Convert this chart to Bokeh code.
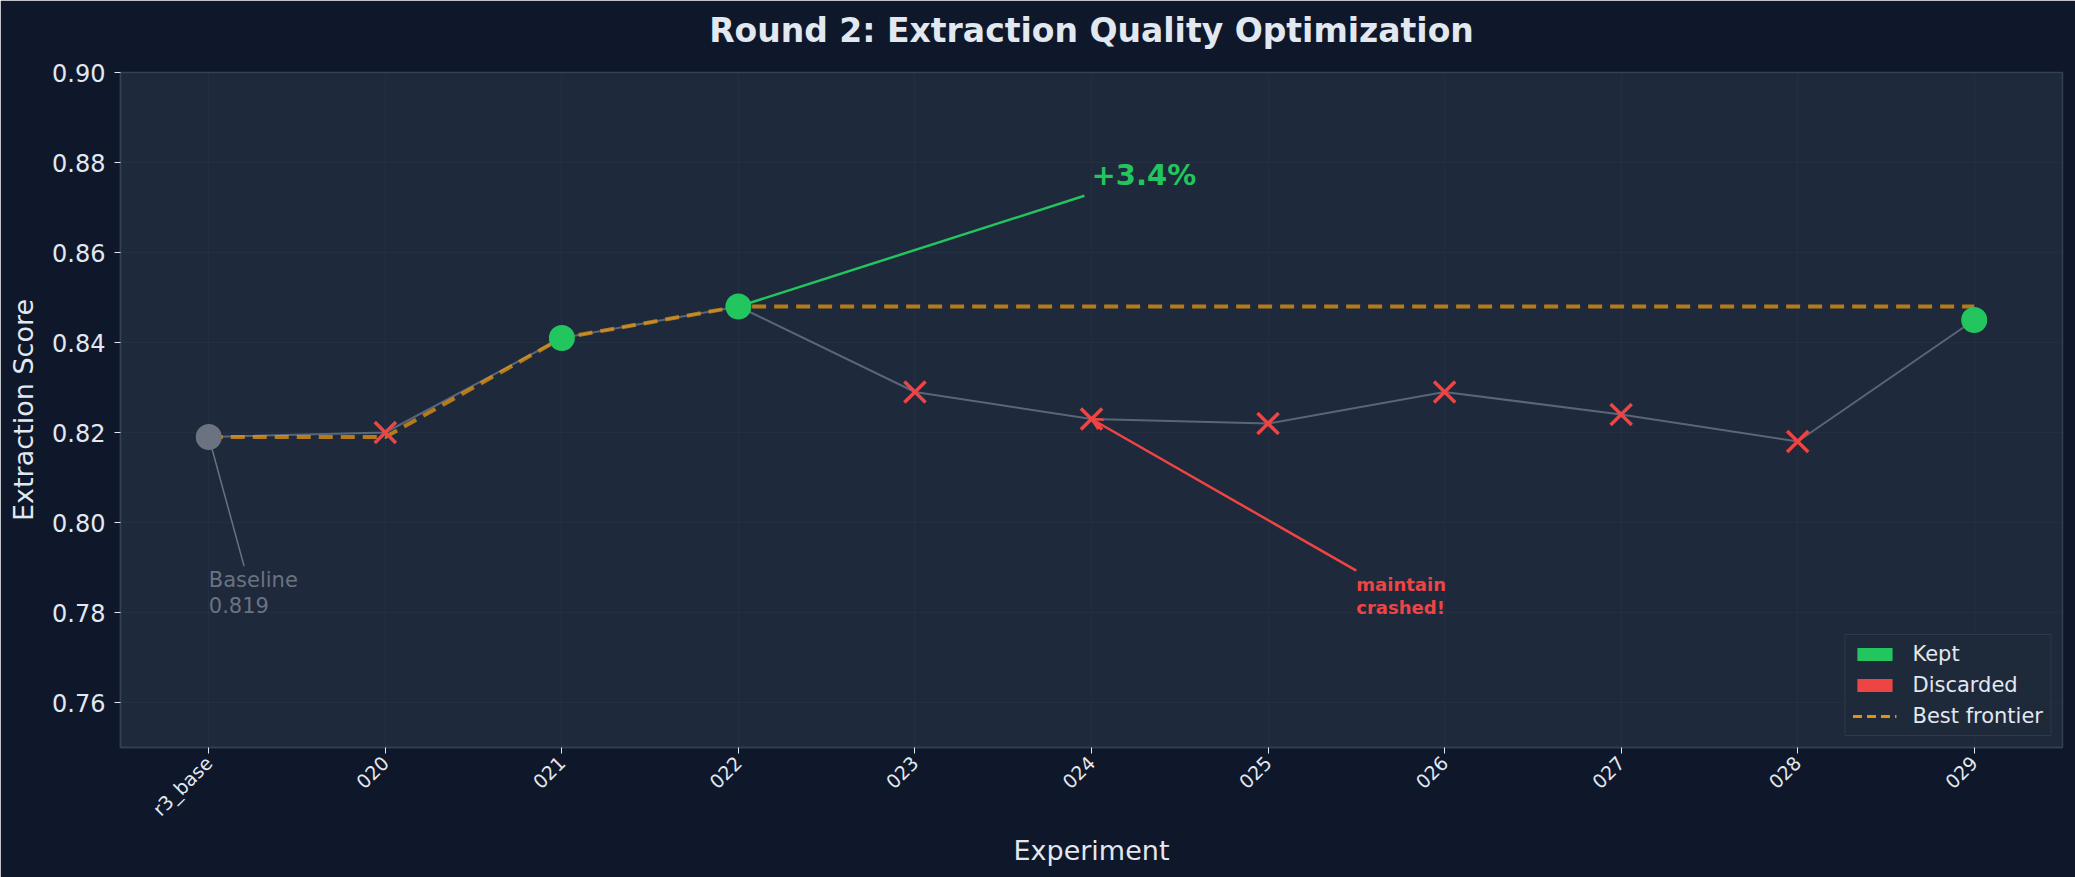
from bokeh.plotting import figure
from bokeh.models import (Range1d, FixedTicker, PrintfTickFormatter, Label, Arrow,
                          OpenHead, Legend, LegendItem, ColumnDataSource, Title)
from bokeh.embed import file_html
from bokeh.resources import INLINE
import math

# ---- data -------------------------------------------------------------
experiments = ["r3_base", "020", "021", "022", "023", "024", "025", "026", "027", "028", "029"]
scores = [0.819, 0.820, 0.841, 0.848, 0.829, 0.823, 0.822, 0.829, 0.824, 0.818, 0.845]
status = ["baseline", "discard", "keep", "keep", "discard", "discard", "discard",
          "discard", "discard", "discard", "keep"]
y_ticks = [0.76, 0.78, 0.80, 0.82, 0.84, 0.86, 0.88, 0.90]
title_text = "Round 2: Extraction Quality Optimization"
gain_text = "+3.4%"
crash_text = "maintain\ncrashed!"
crash_index = 5

# ---- palette ----------------------------------------------------------
BG = "#0f172a"
PANEL = "#1e293b"
EDGE = "#334155"
TEXT = "#e2e8f0"
GREEN = "#22c55e"
RED = "#ef4444"
GREY = "#6b7280"
ORANGE = "#f59e0b"
FONT = "DejaVu Sans"
NAN = float("nan")

xs = list(range(len(experiments)))
baseline = scores[0]
best_idx = max((i for i, s in enumerate(status) if s == "keep"), key=lambda i: scores[i])

# running best over baseline + kept experiments
frontier = []
best = None
for s, st in zip(scores, status):
    if st in ("baseline", "keep"):
        best = s if best is None else max(best, s)
    frontier.append(best)

p = figure(width=2075, height=877, output_backend="svg", toolbar_location=None,
           x_range=Range1d(-0.5, len(experiments) - 0.5), y_range=Range1d(0.75, 0.90),
           min_border_left=120, min_border_right=13, min_border_top=72,
           min_border_bottom=130)

p.background_fill_color = PANEL
p.border_fill_color = BG
p.outline_line_color = EDGE
p.outline_line_width = 1.5

p.title.text = title_text
p.title.align = "center"
p.title.vertical_align = "bottom"
p.title.text_font = FONT
p.title.text_font_size = "33px"
p.title.text_font_style = "bold"
p.title.text_color = TEXT
p.title.standoff = 0
# empty spacer panel that lifts the title away from the plotting area
p.add_layout(Title(text=" ", text_font_size="1px", standoff=20), "above")

# axes
p.xaxis.ticker = FixedTicker(ticks=xs)
p.xaxis.major_label_overrides = {i: name for i, name in enumerate(experiments)}
p.xaxis.major_label_orientation = math.pi / 4
p.xaxis.axis_label = "Experiment"
p.yaxis.ticker = FixedTicker(ticks=y_ticks)
p.yaxis.formatter = PrintfTickFormatter(format="%.2f")
p.yaxis.axis_label = "Extraction Score"

for ax in (p.xaxis[0], p.yaxis[0]):
    ax.axis_line_color = EDGE
    ax.axis_line_width = 1.5
    ax.major_tick_line_color = TEXT
    ax.major_tick_out = 6
    ax.major_tick_in = 0
    ax.minor_tick_line_color = None
    ax.major_label_text_color = TEXT
    ax.major_label_text_font = FONT
    ax.axis_label_text_color = TEXT
    ax.axis_label_text_font = FONT
    ax.axis_label_text_font_style = "normal"
    ax.axis_label_text_font_size = "27px"
p.yaxis.major_label_text_font_size = "24px"
p.yaxis.major_label_standoff = 9
p.yaxis.axis_label_standoff = 10
p.xaxis.major_label_text_font_size = "19px"
p.xaxis.major_label_standoff = 6
p.xaxis.axis_label_standoff = 4

p.grid.grid_line_color = EDGE
p.grid.grid_line_alpha = 0.25
p.grid.grid_line_width = 1

# connecting line through every run
p.line(xs, scores, line_color="#94a3b8", line_alpha=0.5, line_width=2)

# best-so-far frontier
p.line(xs, frontier, line_color=ORANGE, line_alpha=0.7, line_width=4, line_dash="14 8")

# markers by outcome
def subset(kind):
    idx = [i for i, s in enumerate(status) if s == kind]
    return ColumnDataSource(dict(x=[xs[i] for i in idx], y=[scores[i] for i in idx]))

p.scatter("x", "y", source=subset("baseline"), size=26, marker="circle",
          fill_color=GREY, line_color=None)
p.scatter("x", "y", source=subset("keep"), size=26, marker="circle",
          fill_color=GREEN, line_color=None)
p.scatter("x", "y", source=subset("discard"), size=30, marker="x",
          line_color=RED, line_width=3.5)

# annotations
base_label = Label(x=0, y=0.78, y_offset=-6, text=f"Baseline\n{baseline:.3f}",
                   text_color=GREY, text_font=FONT, text_font_size="21px",
                   text_align="left", text_baseline="bottom", text_line_height=1.1)
p.add_layout(base_label)
p.add_layout(Arrow(end=OpenHead(size=9, line_color=GREY, line_width=1.5),
                   x_start=0.2, y_start=0.7903, x_end=0, y_end=baseline,
                   line_color=GREY, line_width=1.5))

gain_label = Label(x=best_idx + 2, y=0.875, y_offset=-7, text=gain_text,
                   text_color=GREEN, text_font=FONT, text_font_size="29px",
                   text_font_style="bold", text_align="left", text_baseline="bottom")
p.add_layout(gain_label)
p.add_layout(Arrow(end=OpenHead(size=11, line_color=GREEN, line_width=2.5),
                   x_start=best_idx + 1.96, y_start=0.8726, x_end=best_idx,
                   y_end=scores[best_idx], line_color=GREEN, line_width=2.5))

crash_label = Label(x=crash_index + 1.5, y=0.78, y_offset=-6, text=crash_text,
                    text_color=RED, text_font=FONT, text_font_size="18px",
                    text_font_style="bold", text_align="left", text_baseline="bottom",
                    text_line_height=1.1)
p.add_layout(crash_label)
p.add_layout(Arrow(end=OpenHead(size=11, line_color=RED, line_width=2.5),
                   x_start=crash_index + 1.5, y_start=0.7893, x_end=crash_index,
                   y_end=scores[crash_index], line_color=RED, line_width=2.5))

# legend swatches (no geometry of their own, only their styles are shown)
kept_r = p.quad(left=[NAN], right=[NAN], top=[NAN], bottom=[NAN],
                fill_color=GREEN, line_color=None)
disc_r = p.quad(left=[NAN], right=[NAN], top=[NAN], bottom=[NAN],
                fill_color=RED, line_color=None)
front_r = p.line([NAN], [NAN], line_color=ORANGE, line_alpha=0.9, line_width=3,
                 line_dash="9 5")
legend = Legend(items=[LegendItem(label="Kept", renderers=[kept_r]),
                       LegendItem(label="Discarded", renderers=[disc_r]),
                       LegendItem(label="Best frontier", renderers=[front_r])],
                location="bottom_right", margin=11, padding=7, spacing=7,
                glyph_width=44, glyph_height=16, label_standoff=16,
                label_text_font=FONT, label_text_font_size="21px",
                label_text_color=TEXT, background_fill_color=PANEL,
                background_fill_alpha=0.9, border_line_color="#3b4a5f",
                border_line_width=1.5)
p.add_layout(legend)

open("out.html", "w").write(file_html(p, INLINE))
